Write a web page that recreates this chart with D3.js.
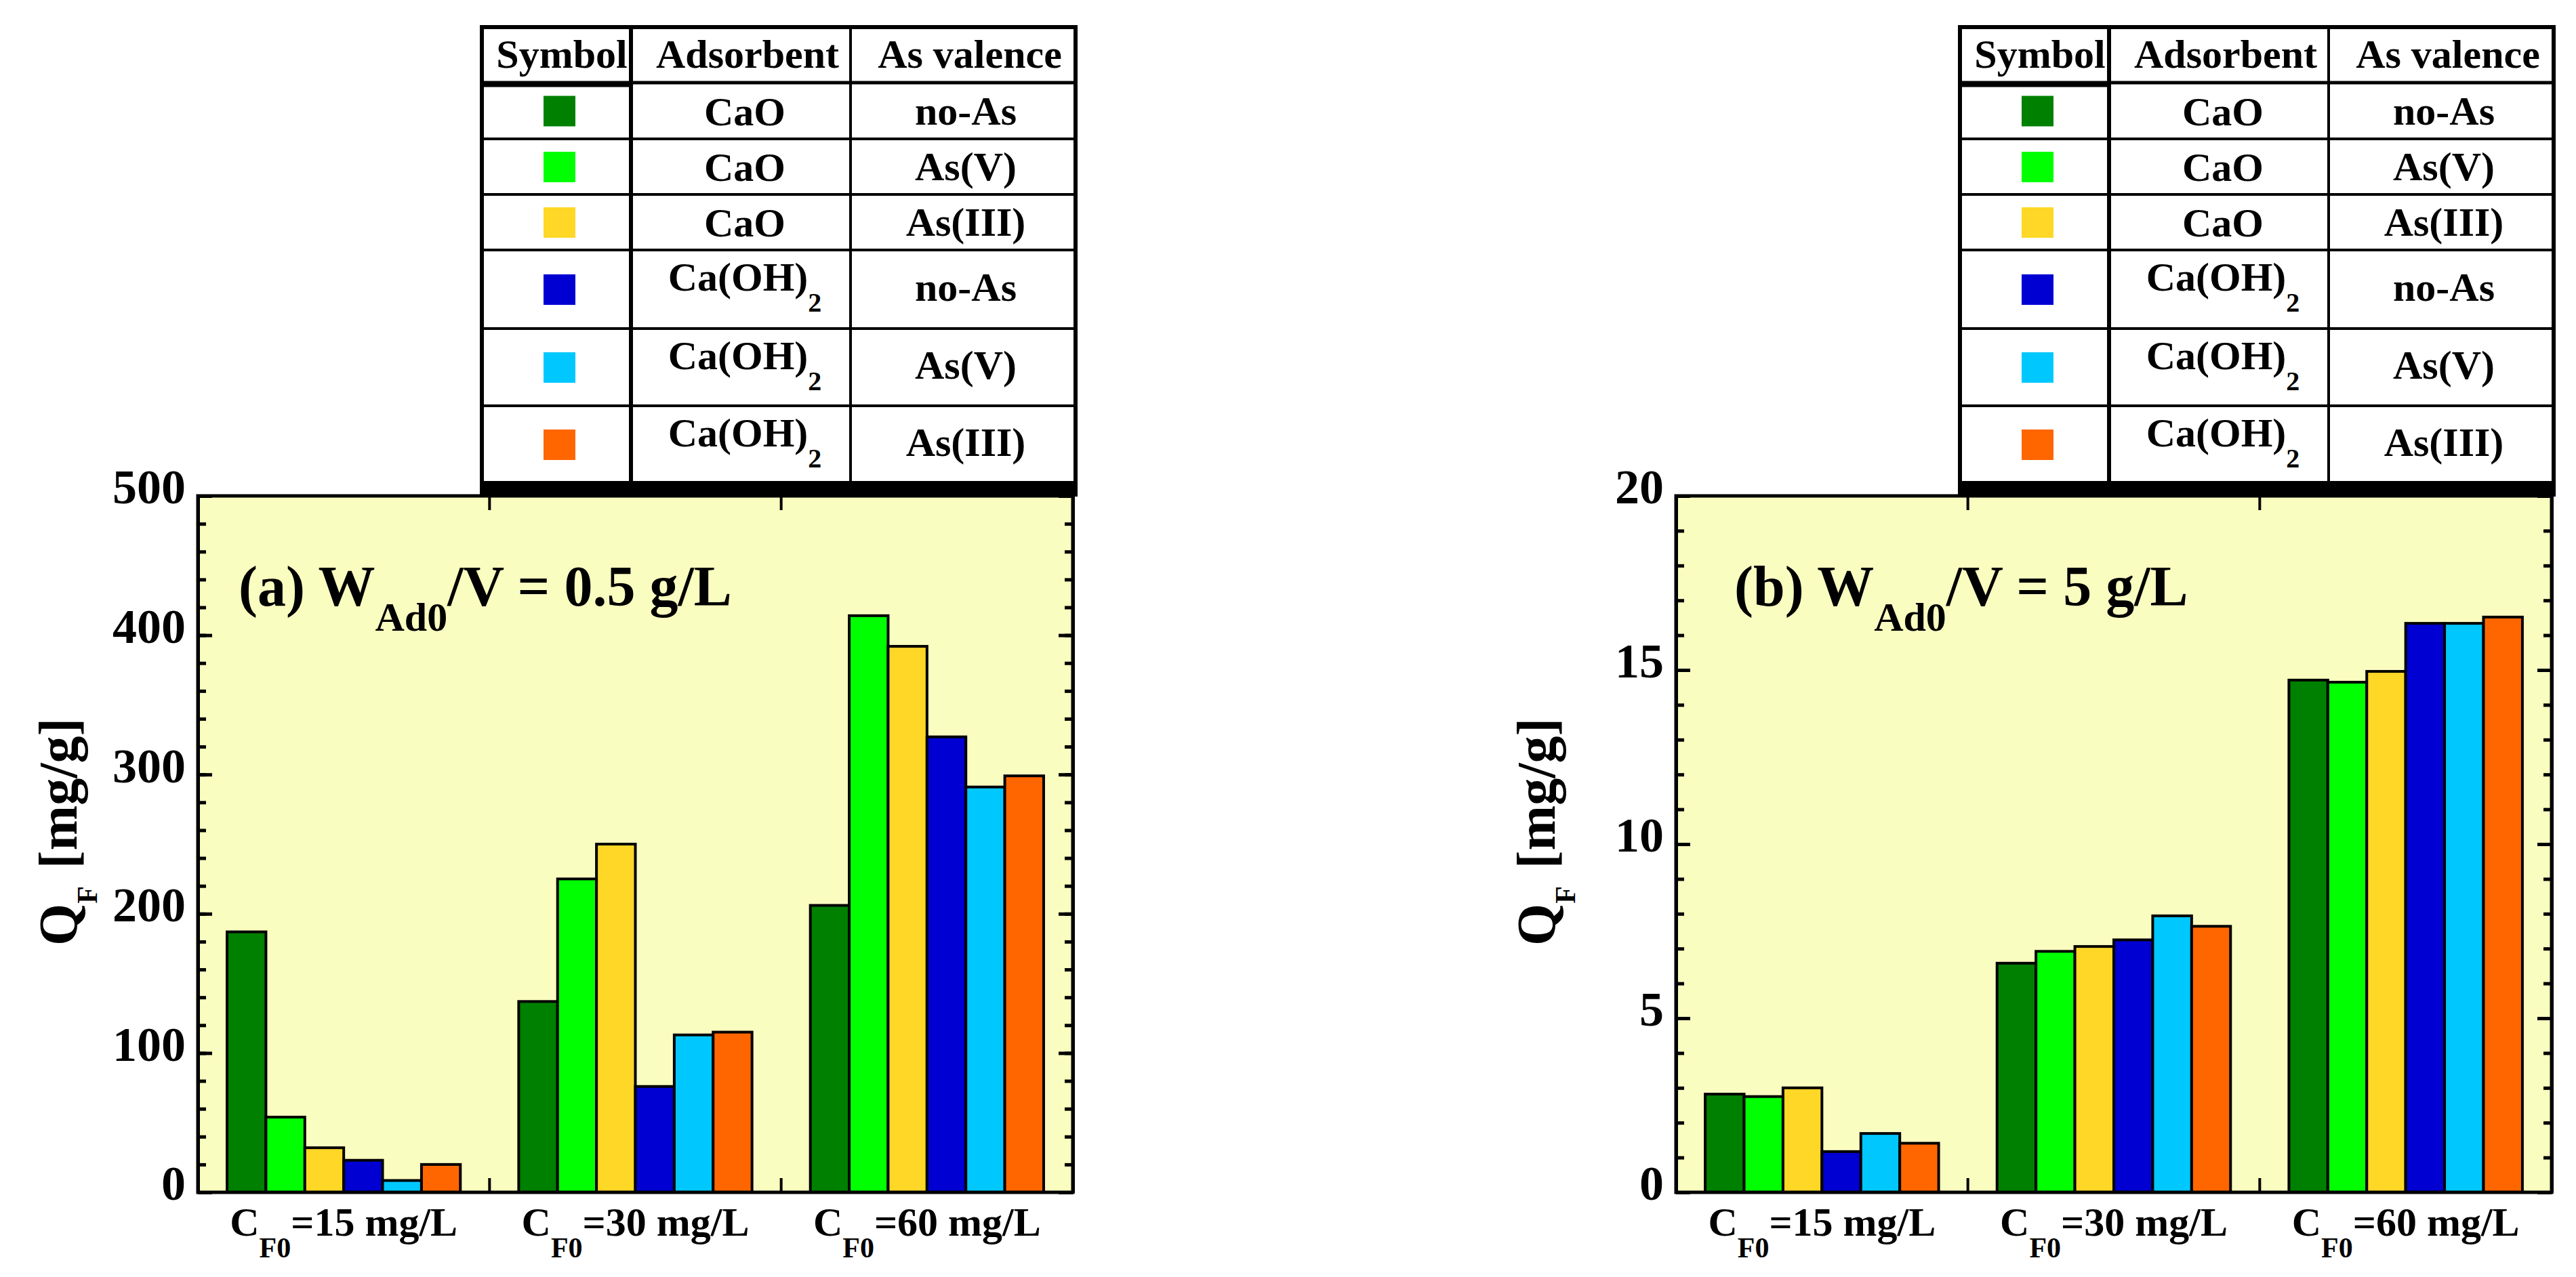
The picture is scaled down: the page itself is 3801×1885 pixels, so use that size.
<!DOCTYPE html>
<html>

<head>
    <title>QF bars</title>
    <script src="https://d3js.org/d3.v7.min.js"></script>
    <style>
        body { margin: 0; background: #fff; }
        text { font-family: "Liberation Serif", "Times New Roman", serif; font-weight: bold; }
    </style>
</head>

<body>
    <svg width="3801" height="1885" id="mainsvg"></svg>
    <script>
        const svg = d3.select('#mainsvg');

        // categories (feed concentration)
        const concLabels = ['=15 mg/L', '=30 mg/L', '=60 mg/L'];
        // series
        const seriesKeys = ['CaO-noAs', 'CaO-AsV', 'CaO-AsIII', 'CaOH2-noAs', 'CaOH2-AsV', 'CaOH2-AsIII'];
        const adsorbents = ['CaO', 'CaO', 'CaO', 'Ca(OH)', 'Ca(OH)', 'Ca(OH)'];
        const adsorbentSub = ['', '', '', '2', '2', '2'];
        const valences = ['no-As', 'As(V)', 'As(III)', 'no-As', 'As(V)', 'As(III)'];
        const barColors = ['#008000', '#00ff00', '#ffd726', '#0000d2', '#00c8ff', '#ff6600'];

        // (a) W_Ad0/V = 0.5 g/L
        const qA15 = [187, 54, 32, 23, 8.5, 20];
        const qA30 = [137, 225, 250, 76, 113, 115];
        const qA60 = [206, 414, 392, 327, 291, 299];
        // (b) W_Ad0/V = 5 g/L
        const qB15 = [2.82, 2.75, 3.0, 1.17, 1.69, 1.41];
        const qB30 = [6.58, 6.92, 7.06, 7.25, 7.94, 7.64];
        const qB60 = [14.71, 14.65, 14.96, 16.34, 16.34, 16.52];

        const yTicksA = [0, 100, 200, 300, 400, 500];
        const yTicksB = [0, 5, 10, 15, 20];

        const plotTop = 732, plotBottom = 1760;
        const bgColor = '#fafdc0';

        function drawPanel(cfg) {
            const g = svg.append('g');
            const x = d3.scaleBand().domain(concLabels)
                .range([cfg.left, cfg.right]).paddingInner(0.2).paddingOuter(0.1);
            const xs = d3.scaleBand().domain(seriesKeys).range([0, x.bandwidth()]);
            const y = d3.scaleLinear().domain(cfg.yDomain).range([plotBottom, plotTop]);

            g.append('rect')
                .attr('x', cfg.left).attr('y', plotTop)
                .attr('width', cfg.right - cfg.left).attr('height', plotBottom - plotTop)
                .attr('fill', bgColor);

            // bars
            const rows = [];
            cfg.groups.forEach((vals, i) => {
                vals.forEach((v, j) => rows.push({ cat: concLabels[i], key: seriesKeys[j], v: v, c: barColors[j] }));
            });
            g.selectAll('rect.bar').data(rows).enter().append('rect')
                .attr('class', 'bar')
                .attr('x', d => x(d.cat) + xs(d.key))
                .attr('y', d => y(d.v))
                .attr('width', xs.bandwidth())
                .attr('height', d => y(0) - y(d.v))
                .attr('fill', d => d.c)
                .attr('stroke', '#000')
                .attr('stroke-width', 4);

            // y axes, major + minor, ticks pointing inside
            const minor = y.ticks(cfg.minorCount);
            const left = g.append('g').attr('transform', `translate(${cfg.left},0)`)
                .call(d3.axisLeft(y).tickValues(cfg.yTicks).tickSizeInner(-21).tickSizeOuter(0).tickPadding(18));
            left.selectAll('text')
                .attr('font-family', '"Liberation Serif", serif')
                .attr('font-weight', 'bold')
                .attr('font-size', 72)
                .attr('dy', '0.15em')
                .attr('fill', '#000');
            g.append('g').attr('transform', `translate(${cfg.left},0)`)
                .call(d3.axisLeft(y).tickValues(minor).tickSizeInner(-12).tickSizeOuter(0).tickFormat(''));
            g.append('g').attr('transform', `translate(${cfg.right},0)`)
                .call(d3.axisRight(y).tickValues(cfg.yTicks).tickSizeInner(-21).tickSizeOuter(0).tickFormat(''));
            g.append('g').attr('transform', `translate(${cfg.right},0)`)
                .call(d3.axisRight(y).tickValues(minor).tickSizeInner(-12).tickSizeOuter(0).tickFormat(''));
            g.selectAll('.tick line').attr('stroke', '#000').attr('stroke-width', 5);
            g.selectAll('.domain').attr('stroke', '#000').attr('stroke-width', 5);

            // category boundary ticks on bottom and top
            const bounds = concLabels.slice(1).map(c => x(c) - x.step() * x.paddingInner() / 2);
            g.selectAll('line.bt').data(bounds).enter().append('line')
                .attr('x1', d => d).attr('x2', d => d)
                .attr('y1', plotBottom).attr('y2', plotBottom - 21)
                .attr('stroke', '#000').attr('stroke-width', 4);
            g.selectAll('line.tt').data(bounds).enter().append('line')
                .attr('x1', d => d).attr('x2', d => d)
                .attr('y1', plotTop).attr('y2', plotTop + 21)
                .attr('stroke', '#000').attr('stroke-width', 4);

            // frame
            g.append('rect')
                .attr('x', cfg.left).attr('y', plotTop)
                .attr('width', cfg.right - cfg.left).attr('height', plotBottom - plotTop)
                .attr('fill', 'none').attr('stroke', '#000').attr('stroke-width', 5);

            // x labels  C_F0=.. mg/L
            const xl = g.selectAll('text.xl').data(concLabels).enter().append('text')
                .attr('class', 'xl')
                .attr('x', d => x(d) + x.bandwidth() / 2)
                .attr('y', plotBottom + 64)
                .attr('text-anchor', 'middle')
                .attr('font-size', 60);
            xl.append('tspan').text('C');
            xl.append('tspan').attr('dy', 32).attr('font-size', 42).text('F0');
            xl.append('tspan').attr('dy', -32).text(d => d);

            // y label
            const yl = g.append('text')
                .attr('transform', `translate(${cfg.left - 179},${(plotTop + plotBottom) / 2 - 18}) rotate(-90)`)
                .attr('text-anchor', 'middle')
                .attr('font-size', 80);
            yl.append('tspan').text('Q');
            yl.append('tspan').attr('dy', 30).attr('font-size', 42).text('F');
            yl.append('tspan').attr('dy', -30).attr('dx', 26).text('[mg/g]');

            // panel title
            const t = g.append('text')
                .attr('x', cfg.left + cfg.titleDx)
                .attr('y', plotTop + 162)
                .attr('font-size', 84);
            t.append('tspan').text(cfg.titleHead + ' W');
            t.append('tspan').attr('dy', 37).attr('font-size', 60).text('Ad0');
            t.append('tspan').attr('dy', -37).text(cfg.titleTail);

            drawTable(cfg.left + 419, 40);
        }

        function drawTable(tx, ty) {
            const g = svg.append('g').attr('transform', `translate(${tx},${ty})`);
            const colX = [0, 220, 544, 876];
            const rowH = [82, 83, 82, 82, 116, 114, 114];
            const rowY = [0];
            rowH.forEach((h, i) => rowY.push(rowY[i] + h));
            const tw = colX[3], th = rowY[rowY.length - 1];

            g.append('rect').attr('width', tw).attr('height', th)
                .attr('fill', '#fff').attr('stroke', '#000').attr('stroke-width', 6);
            g.selectAll('line.r').data(rowY.slice(1, -1)).enter().append('line')
                .attr('x1', 0).attr('x2', tw)
                .attr('y1', d => d).attr('y2', d => d)
                .attr('stroke', '#000').attr('stroke-width', (d, i) => i === 0 ? 5 : 4);
            g.append('line').attr('x1', 0).attr('x2', colX[1])
                .attr('y1', rowY[1] + 4).attr('y2', rowY[1] + 4)
                .attr('stroke', '#000').attr('stroke-width', 5);
            g.selectAll('line.c').data(colX.slice(1, -1)).enter().append('line')
                .attr('x1', d => d).attr('x2', d => d)
                .attr('y1', 0).attr('y2', th)
                .attr('stroke', '#000').attr('stroke-width', (d, i) => i === 0 ? 6 : 4);
            g.append('rect').attr('x', -3).attr('y', th).attr('width', tw + 6).attr('height', 20).attr('fill', '#000');

            const headers = ['Symbol', 'Adsorbent', 'As valence'];
            g.selectAll('text.h').data(headers).enter().append('text')
                .attr('x', (d, i) => (colX[i] + colX[i + 1]) / 2 + (i === 0 ? 8 : 10))
                .attr('y', 60)
                .attr('text-anchor', 'middle')
                .attr('font-size', 60)
                .text(d => d);

            seriesKeys.forEach((k, j) => {
                const top = rowY[j + 1], h = rowH[j + 1], mid = top + h / 2;
                g.append('rect')
                    .attr('x', 91).attr('y', mid - 22)
                    .attr('width', 47).attr('height', 45)
                    .attr('fill', barColors[j]);
                const a = g.append('text')
                    .attr('x', (colX[1] + colX[2]) / 2 + 6)
                    .attr('text-anchor', 'middle')
                    .attr('font-size', 60);
                if (adsorbentSub[j]) {
                    a.attr('y', top + 60);
                    a.append('tspan').text(adsorbents[j]);
                    a.append('tspan').attr('dy', 31).attr('font-size', 40).text(adsorbentSub[j]);
                } else {
                    a.attr('y', mid + 21).text(adsorbents[j]);
                }
                g.append('text')
                    .attr('x', (colX[2] + colX[3]) / 2 + 4)
                    .attr('y', mid + (adsorbentSub[j] ? 17 : 20))
                    .attr('text-anchor', 'middle')
                    .attr('font-size', 60)
                    .text(valences[j]);
            });
        }

        drawPanel({
            left: 292, right: 1583,
            yDomain: [0, 500], yTicks: yTicksA, minorCount: 25,
            groups: [qA15, qA30, qA60],
            titleHead: '(a)', titleTail: '/V = 0.5 g/L', titleDx: 60
        });
        drawPanel({
            left: 2473, right: 3765,
            yDomain: [0, 20], yTicks: yTicksB, minorCount: 20,
            groups: [qB15, qB30, qB60],
            titleHead: '(b)', titleTail: '/V = 5 g/L', titleDx: 86
        });
    </script>
</body>

</html>
